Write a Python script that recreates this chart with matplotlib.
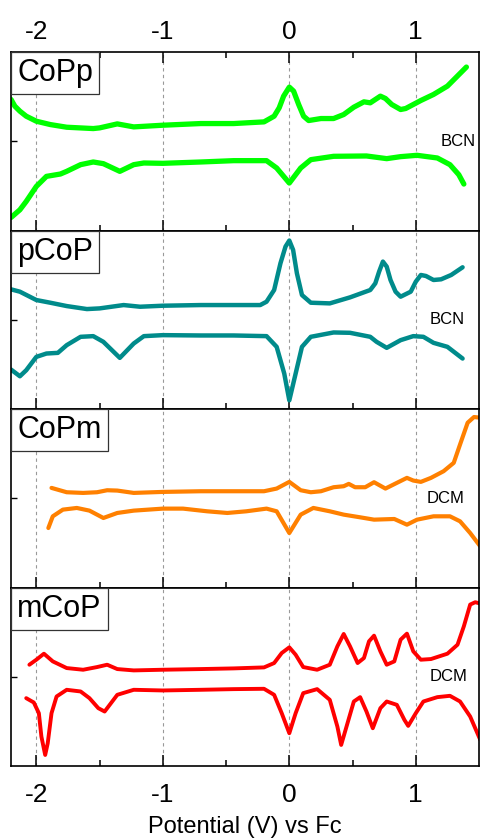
import matplotlib.pyplot as plt

plt.rcParams['font.family'] = ['Liberation Sans', 'DejaVu Sans']
plt.rcParams['axes.unicode_minus'] = False

# potential (V vs Fc) and current (arb. units, centred in each panel)
# CoPp in BCN
copp_ox_v = [-2.20, -2.17, -2.13, -2.08, -2.00, -1.89, -1.76, -1.55, -1.50, -1.36,
             -1.23, -1.00, -0.70, -0.44, -0.20, -0.12, -0.08, -0.045, 0.00, 0.034,
             0.074, 0.113, 0.153, 0.25, 0.35, 0.43, 0.51, 0.59, 0.64, 0.68,
             0.72, 0.76, 0.81, 0.88, 0.92, 0.98, 1.04, 1.14, 1.25, 1.40]
copp_ox_i = [125, 105, 90, 75, 60, 50, 42, 38, 40, 52,
             43, 48, 53, 53, 58, 75, 100, 135, 162, 150,
             110, 75, 62, 68, 68, 80, 102, 118, 115, 125,
             135, 128, 110, 95, 98, 110, 122, 140, 165, 222]
copp_red_v = [-2.20, -2.13, -2.08, -2.00, -1.92, -1.81, -1.76, -1.65, -1.55, -1.47,
              -1.34, -1.23, -1.15, -1.00, -0.70, -0.44, -0.18, -0.10, 0.00, 0.09,
              0.17, 0.35, 0.61, 0.77, 0.88, 1.01, 1.17, 1.27, 1.34, 1.38]
copp_red_i = [-228, -205, -180, -135, -105, -98, -90, -70, -62, -67,
              -90, -70, -65, -66, -62, -58, -58, -80, -125, -80,
              -55, -45, -44, -52, -46, -42, -50, -70, -100, -128]

# pCoP in BCN
pcop_ox_v = [-2.20, -2.13, -2.00, -1.89, -1.76, -1.60, -1.50, -1.31, -1.18, -1.00,
             -0.70, -0.44, -0.23, -0.18, -0.12, -0.07, -0.03, 0.00, 0.03, 0.06,
             0.10, 0.17, 0.32, 0.48, 0.64, 0.68, 0.71, 0.74, 0.77, 0.80,
             0.84, 0.88, 0.96, 1.00, 1.04, 1.08, 1.14, 1.20, 1.28, 1.37]
pcop_ox_i = [91, 84, 59, 51, 41, 32, 34, 44, 39, 42,
             44, 44, 44, 54, 89, 169, 219, 237, 209, 139,
             74, 51, 49, 67, 89, 109, 144, 174, 159, 119,
             84, 69, 84, 114, 134, 131, 119, 121, 134, 157]
pcop_red_v = [-2.20, -2.13, -2.08, -2.00, -1.92, -1.83, -1.76, -1.65, -1.55, -1.47,
              -1.34, -1.23, -1.15, -1.00, -0.70, -0.44, -0.18, -0.10, -0.04, 0.00,
              0.05, 0.10, 0.17, 0.35, 0.48, 0.64, 0.69, 0.77, 0.88, 0.98,
              1.06, 1.14, 1.25, 1.37]
pcop_red_i = [-149, -169, -151, -111, -101, -99, -76, -51, -49, -66,
              -114, -71, -49, -46, -47, -47, -49, -81, -161, -241,
              -161, -81, -51, -38, -39, -51, -66, -84, -61, -49,
              -51, -69, -81, -116]

# CoPm in DCM
copm_ox_v = [-1.88, -1.76, -1.63, -1.52, -1.44, -1.36, -1.23, -1.00, -0.70, -0.44,
             -0.20, -0.10, 0.00, 0.09, 0.17, 0.25, 0.35, 0.43, 0.47, 0.52,
             0.60, 0.67, 0.76, 0.85, 0.93, 0.98, 1.04, 1.12, 1.22, 1.30,
             1.35, 1.41, 1.46, 1.51]
copm_ox_i = [31, 18, 16, 18, 24, 23, 16, 19, 21, 21,
             21, 29, 49, 24, 18, 21, 33, 36, 43, 33,
             33, 48, 29, 46, 61, 53, 49, 61, 81, 106,
             161, 226, 243, 241]
copm_red_v = [-1.905, -1.87, -1.79, -1.68, -1.58, -1.47, -1.36, -1.23, -1.00, -0.84,
              -0.65, -0.49, -0.34, -0.18, -0.10, 0.00, 0.09, 0.19, 0.32, 0.43,
              0.56, 0.67, 0.83, 0.93, 1.01, 1.14, 1.27, 1.35, 1.43, 1.51]
copm_red_i = [-89, -54, -34, -29, -37, -59, -44, -37, -31, -31,
              -39, -44, -39, -31, -39, -104, -49, -29, -39, -49,
              -57, -64, -62, -79, -64, -54, -54, -69, -104, -144]

# mCoP in DCM
mcop_ox_v = [-2.055, -2.00, -1.94, -1.87, -1.76, -1.63, -1.52, -1.44, -1.36, -1.23,
             -1.00, -0.70, -0.44, -0.20, -0.12, -0.06, 0.00, 0.05, 0.11, 0.22,
             0.32, 0.38, 0.43, 0.48, 0.54, 0.59, 0.63, 0.67, 0.72, 0.77,
             0.83, 0.88, 0.93, 0.98, 1.04, 1.12, 1.25, 1.33, 1.38, 1.43,
             1.47, 1.51]
mcop_ox_i = [36, 51, 69, 46, 26, 21, 29, 36, 23, 19,
             21, 23, 25, 28, 41, 71, 88, 66, 29, 21,
             36, 91, 128, 91, 41, 56, 106, 123, 76, 36,
             46, 111, 129, 76, 51, 53, 69, 96, 151, 216,
             223, 219]
mcop_red_v = [-2.08, -2.02, -1.98, -1.96, -1.93, -1.91, -1.88, -1.84, -1.76, -1.65,
              -1.58, -1.51, -1.46, -1.42, -1.36, -1.23, -1.00, -0.70, -0.44, -0.20,
              -0.12, -0.06, 0.00, 0.05, 0.11, 0.22, 0.32, 0.38, 0.41, 0.46,
              0.51, 0.56, 0.61, 0.66, 0.72, 0.77, 0.85, 0.91, 0.94, 1.00,
              1.06, 1.17, 1.27, 1.35, 1.43, 1.51]
mcop_red_i = [-64, -77, -109, -179, -234, -199, -109, -59, -39, -44,
              -64, -94, -104, -84, -54, -39, -41, -39, -37, -36,
              -54, -109, -169, -109, -49, -37, -69, -149, -204, -139,
              -74, -61, -104, -154, -94, -74, -84, -129, -147, -109,
              -74, -61, -57, -74, -119, -189]

names = ["CoPp", "pCoP", "CoPm", "mCoP"]
solvents = ["BCN", "BCN", "DCM", "DCM"]
colors = ["#00FF00", "#008B8B", "#FF8000", "#FF0000"]
widths = [3.8, 3.2, 3.0, 2.8]
solvent_x = [0.994, 0.97, 0.97, 0.975]
curves = [
    (copp_ox_v, copp_ox_i, copp_red_v, copp_red_i),
    (pcop_ox_v, pcop_ox_i, pcop_red_v, pcop_red_i),
    (copm_ox_v, copm_ox_i, copm_red_v, copm_red_i),
    (mcop_ox_v, mcop_ox_i, mcop_red_v, mcop_red_i),
]

fig, axes = plt.subplots(4, 1, figsize=(4.8, 8.39), dpi=100, sharex=True)
fig.subplots_adjust(left=0.023, right=0.998, top=0.938, bottom=0.087, hspace=0)

for k, ax in enumerate(axes):
    ox_v, ox_i, red_v, red_i = curves[k]
    ax.plot(ox_v, ox_i, color=colors[k], lw=widths[k], solid_joinstyle='round', solid_capstyle='round')
    ax.plot(red_v, red_i, color=colors[k], lw=widths[k], solid_joinstyle='round', solid_capstyle='round')

    ax.set_xlim(-2.2, 1.5)
    ax.set_ylim(-267, 267)
    ax.set_xticks([-2, -1, 0, 1])
    ax.set_xticks([-1.5, -0.5, 0.5], minor=True)
    ax.set_yticks([0])
    ax.set_yticklabels([])
    ax.tick_params(axis='x', which='both', direction='in', top=False, bottom=True,
                   labelbottom=False, labelsize=19)
    ax.tick_params(axis='x', which='major', length=8, width=1.1)
    ax.tick_params(axis='x', which='minor', length=4.5, width=1.1)
    ax.tick_params(axis='y', direction='in', length=4, width=1)
    ax.grid(axis='x', which='major', color='#999999', ls=(0, (3, 3)), lw=0.8)
    ax.set_axisbelow(True)
    for sp in ax.spines.values():
        sp.set_linewidth(1.2)

    ax.annotate(names[k], xy=(0, 1), xycoords='axes fraction', xytext=(4.4, -4.4),
                textcoords='offset points', ha='left', va='top', fontsize=22, zorder=5,
                bbox=dict(boxstyle='square,pad=0.2', fc='white', ec='#333333', lw=0.9))
    ax.text(solvent_x[k], 0.5, solvents[k], transform=ax.transAxes,
            ha='right', va='center', fontsize=12)

axes[0].tick_params(axis='x', which='both', top=True, labeltop=True, pad=6)
axes[-1].tick_params(axis='x', which='both', labelbottom=True, pad=12)
axes[-1].set_xlabel("Potential (V) vs Fc", fontsize=17, labelpad=7)

plt.savefig("out.png", dpi=100)
